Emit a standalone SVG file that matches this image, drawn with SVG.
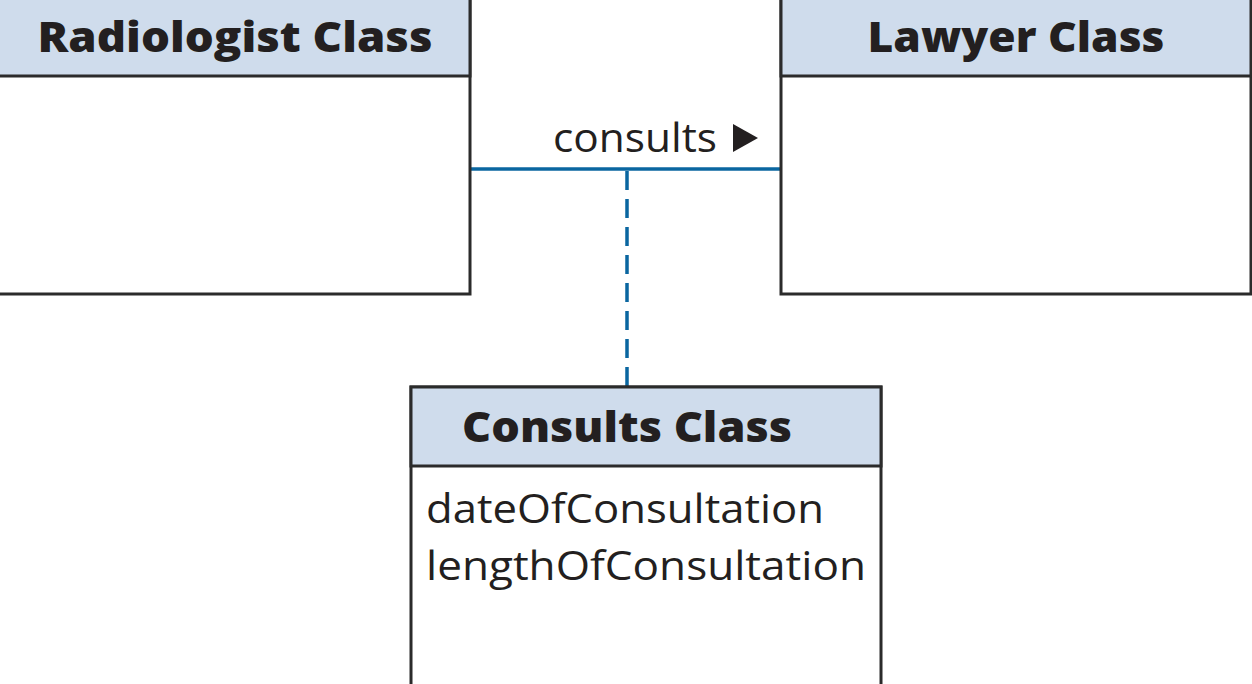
<svg xmlns="http://www.w3.org/2000/svg" width="1252" height="684" viewBox="0 0 1252 684">
<style>
.box{fill:#ffffff;stroke:#2b2b2b;stroke-width:3}
.hdr{fill:#cfdcec;stroke:#2b2b2b;stroke-width:3}
.title{font-family:"Open Sans","Noto Sans",sans-serif;font-weight:800;font-size:43px;fill:#231f20}
.txt{font-family:"Open Sans","Noto Sans",sans-serif;font-size:40px;fill:#231f20}
.assoc{stroke:#0a66a0;stroke-width:3.5;fill:none}
.dash{stroke:#0a66a0;stroke-width:3.5;fill:none;stroke-dasharray:19 9}
</style>
<rect x="0" y="0" width="1252" height="684" fill="#ffffff"/>
<g id="connectors">
<line class="assoc" x1="471" y1="169" x2="781" y2="169"/>
<line class="dash" x1="627" y1="171" x2="627" y2="386"/>
<g id="assoc-label">
<text class="txt" x="553" y="152" textLength="164" lengthAdjust="spacingAndGlyphs">consults</text>
<polygon points="733,124 758,138 733,152" fill="#231f20"/>
</g>
</g>
<g id="radiologist">
<rect class="box" x="-2" y="-2" width="472" height="296"/>
<rect class="hdr" x="-2" y="-2" width="472" height="78"/>
<text class="title" x="235" y="52" text-anchor="middle" textLength="395" lengthAdjust="spacingAndGlyphs">Radiologist Class</text>
</g>
<g id="lawyer">
<rect class="box" x="781" y="-2" width="470" height="296"/>
<rect class="hdr" x="781" y="-2" width="470" height="78"/>
<text class="title" x="1016" y="52" text-anchor="middle" textLength="297" lengthAdjust="spacingAndGlyphs">Lawyer Class</text>
</g>
<g id="consults">
<rect class="box" x="411" y="387" width="470" height="300"/>
<rect class="hdr" x="411" y="387" width="470" height="79"/>
<text class="title" x="627" y="442" text-anchor="middle" textLength="330" lengthAdjust="spacingAndGlyphs">Consults Class</text>
<text class="txt" x="426" y="523" textLength="398" lengthAdjust="spacingAndGlyphs">dateOfConsultation</text>
<text class="txt" x="426" y="580" textLength="440" lengthAdjust="spacingAndGlyphs">lengthOfConsultation</text>
</g>
</svg>
